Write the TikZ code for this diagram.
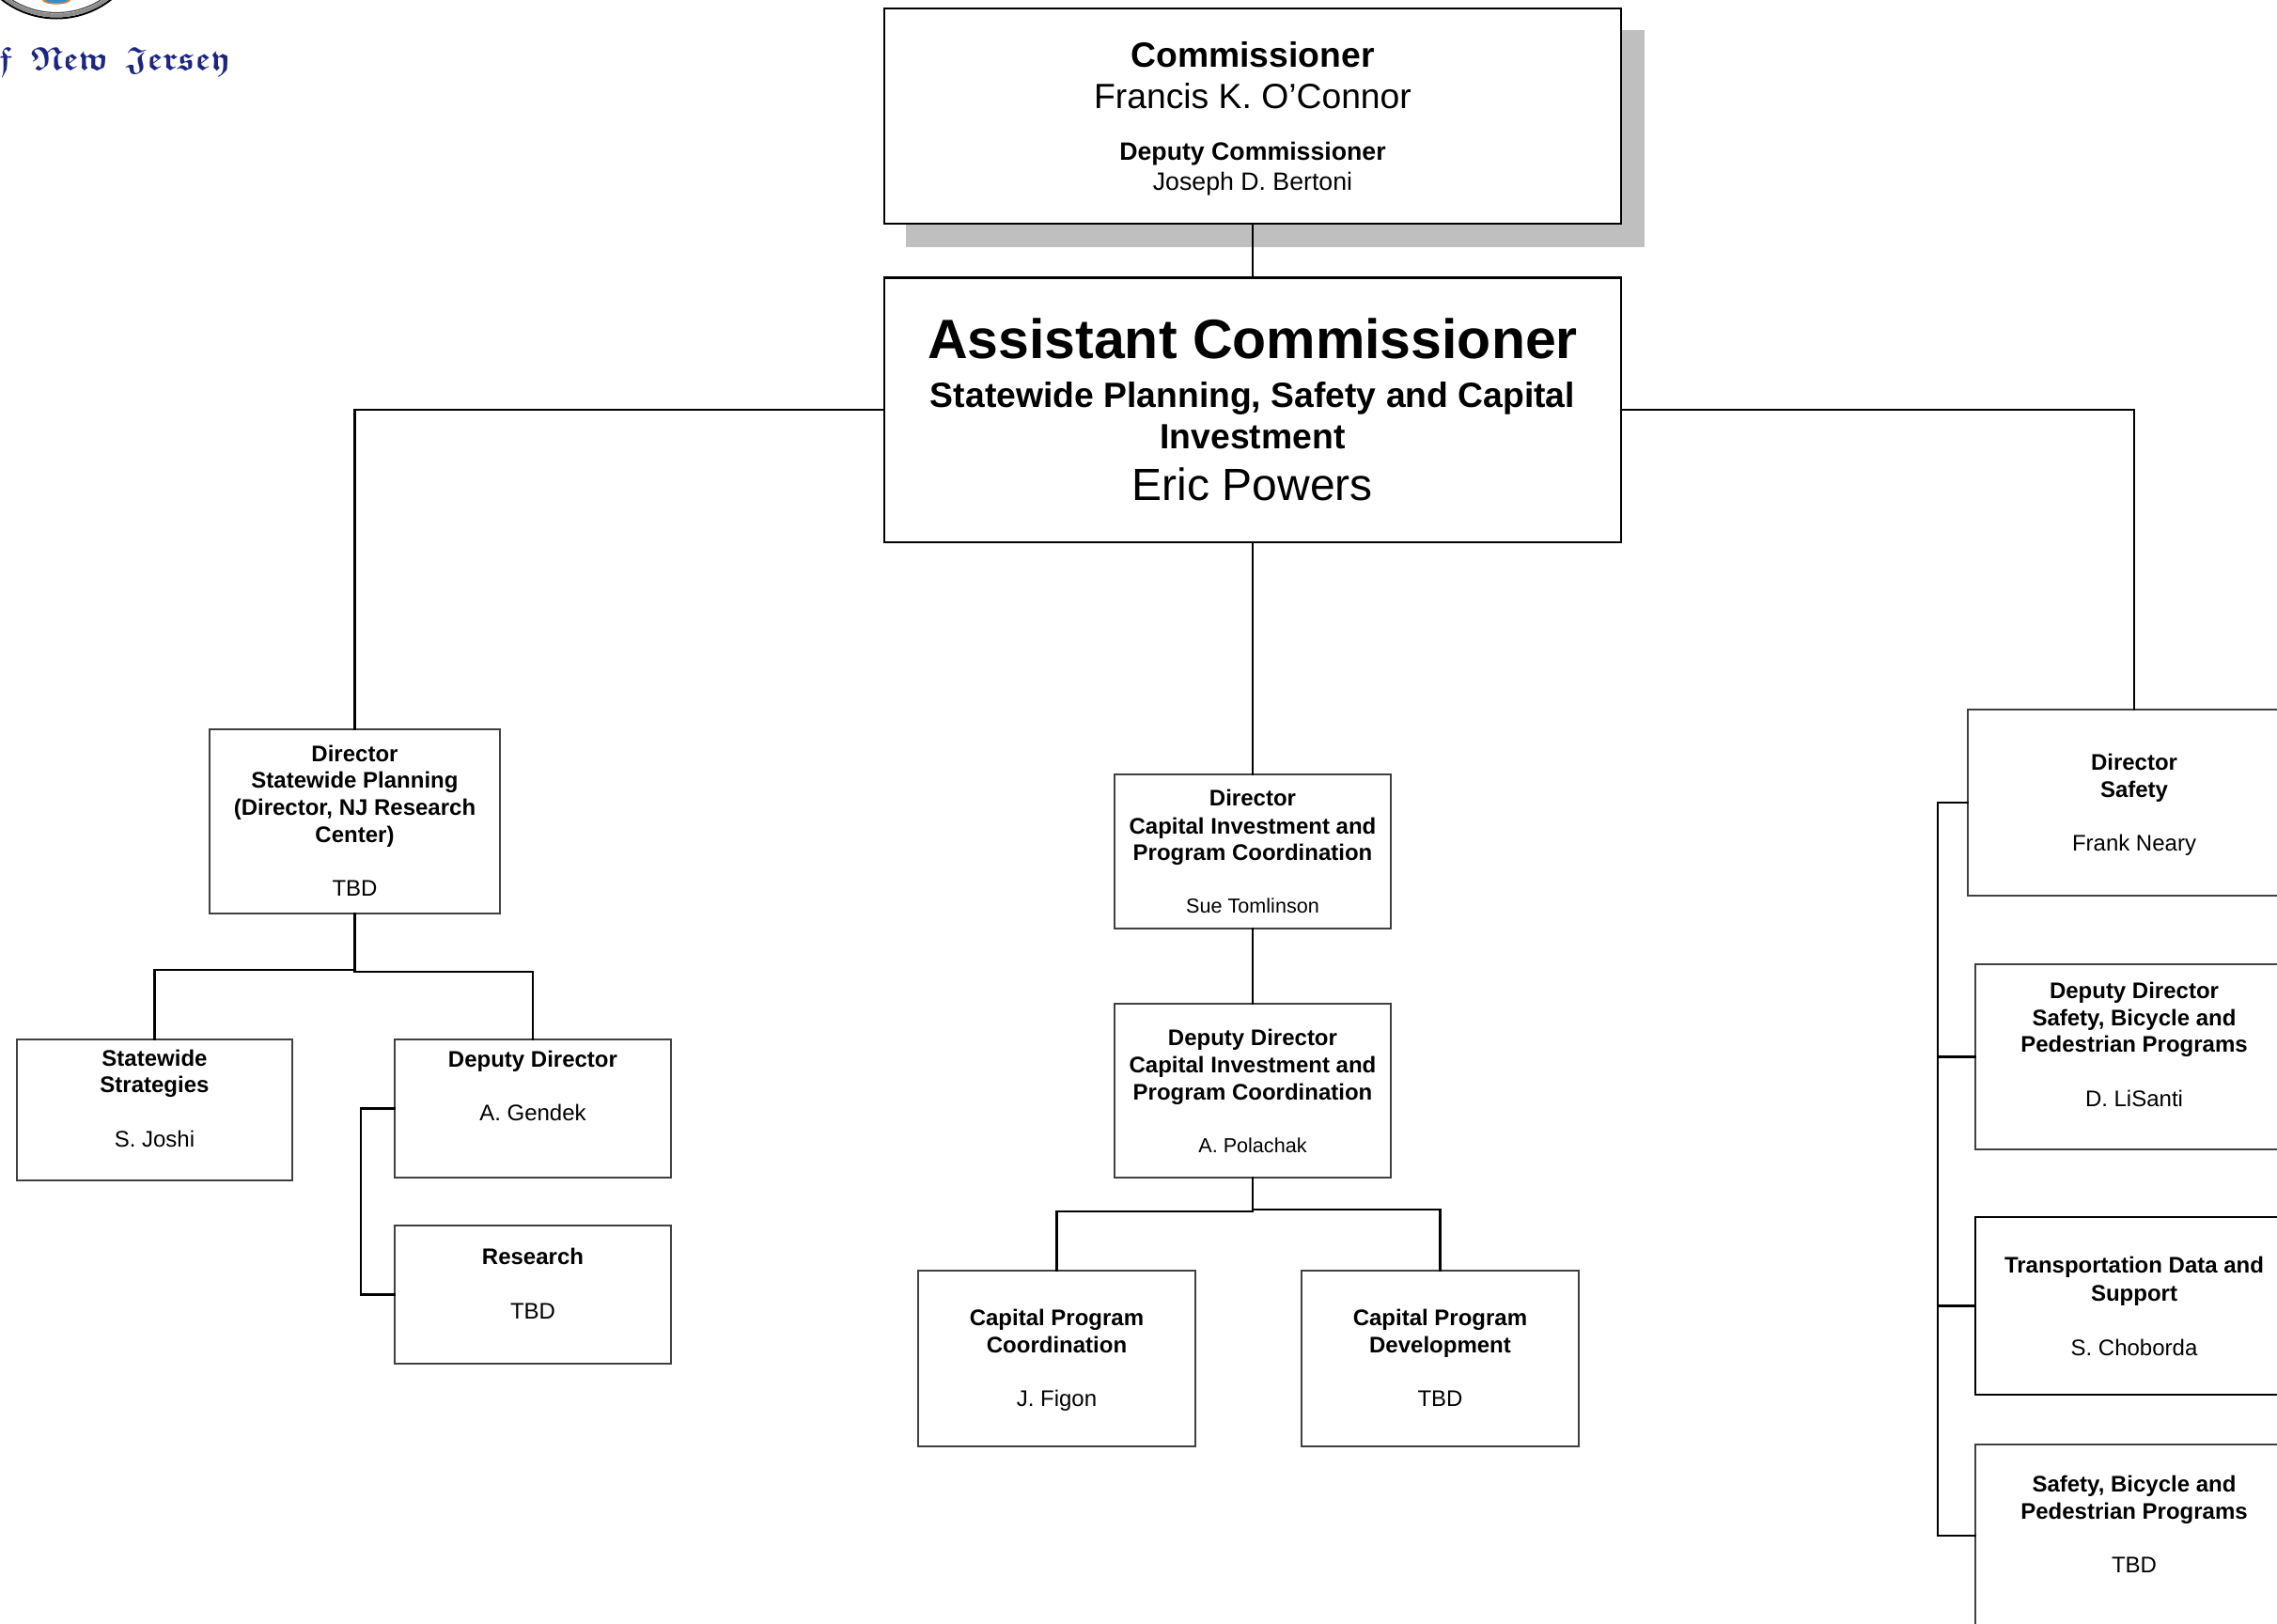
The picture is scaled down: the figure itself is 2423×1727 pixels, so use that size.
\documentclass[tikz,border=0pt]{standalone}
\usepackage{fontspec}
\setmainfont{Liberation Sans}
\usetikzlibrary{calc}
\font\njfrak=eufb10 at 35pt
\definecolor{shadowgray}{HTML}{BFBFBF}
\definecolor{njblue}{HTML}{1C2580}
\definecolor{sealgray}{HTML}{8C8C8C}
\definecolor{sealorange}{HTML}{E0803A}
\definecolor{sealblue}{HTML}{2E8FD0}
\tikzset{
  orgbox/.style={draw=black!75,fill=white,line width=1.1pt,inner sep=0pt,outer sep=0pt},
  heavybox/.style={orgbox,draw=black,line width=2.5pt},
  midbox/.style={orgbox,draw=black,line width=2.1pt},
  link/.style={draw=black,line width=2.2pt,line cap=rect},
}
% one line of a box: distance of its baseline from the previous one, then its text
\newcommand{\bl}[2]{\par\rule{0pt}{#1pt}\smash{#2}}
\newcommand{\fs}[1]{\fontsize{#1}{#1}\selectfont}
\newcommand{\bb}{\fontsize{24}{24}\selectfont\bfseries}
\newcommand{\rr}{\fontsize{24}{24}\selectfont}
\newcommand{\sm}{\fontsize{21.6}{21.6}\selectfont}
% style, name, x1, y1, x2, y2, lines
\newcommand{\obox}[7]{%
  \pgfmathsetlengthmacro{\bw}{(#5-#3)*1pt}%
  \pgfmathsetlengthmacro{\bh}{(#6-#4)*1pt}%
  \node[#1,minimum width=\bw,minimum height=\bh] (#2) at ({(#3+#5)/2*1pt},{-(#4+#6)/2*1pt}) {%
    \begin{minipage}[c][\bh][t]{\bw}\centering\offinterlineskip\setlength{\parindent}{0pt}\setlength{\parskip}{0pt}#7\end{minipage}};%
}
\begin{document}
\begin{tikzpicture}[x=1pt,y=1pt]
\clip (0,0) rectangle (2423,-1727);
\fill[white] (0,0) rectangle (2423,-1727);
% seal and state name
\draw[black,line width=2pt] (60,75) circle (94.5);
\draw[sealgray,line width=4pt] (60,75) circle (91.5);
\draw[black!70,line width=1.2pt] (60,75) circle (88.5);
\fill[sealorange] (60,0) ellipse (15 and 4.6);
\fill[sealblue] (60,0) ellipse (12 and 3);
\node[anchor=base west,inner sep=0pt,text=njblue] (njname) at (-1,-74) {\njfrak f\hspace{20pt}New\hspace{18pt}Jersey};
% shadow
\fill[shadowgray] (964,-32) rectangle (1750,-262.5);
% boxes
\obox{heavybox}{comm}{941}{9}{1725}{238}{%
  \bl{62.5}{\fs{37.3}\bfseries Commissioner}%
  \bl{44}{\fs{37.3}Francis K. O’Connor}%
  \bl{54.5}{\fs{26.7}\bfseries Deputy Commissioner}%
  \bl{32}{\fs{26.7}Joseph D. Bertoni}}
\obox{midbox}{ac}{941}{295.5}{1725}{577}{%
  \bl{86}{\fs{59}\bfseries Assistant Commissioner}%
  \bl{52}{\fs{37.3}\bfseries Statewide Planning, Safety and Capital}%
  \bl{44}{\fs{37.3}\bfseries Investment}%
  \bl{54.5}{\fs{48}Eric Powers}}
\obox{orgbox}{dsp}{223}{776}{532}{972}{%
  \bl{34}{\bb Director}\bl{28.9}{\bb Statewide Planning}\bl{28.7}{\bb (Director, NJ Research}\bl{28.7}{\bb Center)}\bl{57.2}{\rr TBD}}
\obox{orgbox}{strat}{18}{1106}{311}{1256}{%
  \bl{28}{\bb Statewide}\bl{28.7}{\bb Strategies}\bl{57.4}{\rr S. Joshi}}
\obox{orgbox}{gdk}{420}{1106}{714}{1253}{%
  \bl{29}{\bb Deputy Director}\bl{57.4}{\rr A. Gendek}}
\obox{orgbox}{res}{420}{1304}{714}{1451}{%
  \bl{41.6}{\bb Research}\bl{57.4}{\rr TBD}}
\obox{orgbox}{dci}{1186}{824}{1480}{988}{%
  \bl{33}{\bb Director}\bl{30}{\bb Capital Investment and}\bl{28.7}{\bb Program Coordination}\bl{56}{\sm Sue Tomlinson}}
\obox{orgbox}{dep}{1186}{1068}{1480}{1253}{%
  \bl{44}{\bb Deputy Director}\bl{29.5}{\bb Capital Investment and}\bl{28.7}{\bb Program Coordination}\bl{56.5}{\sm A. Polachak}}
\obox{orgbox}{cpc}{977}{1352}{1272}{1539}{%
  \bl{58.5}{\bb Capital Program}\bl{28.7}{\bb Coordination}\bl{57.4}{\rr J. Figon}}
\obox{orgbox}{cpd}{1385}{1352}{1680}{1539}{%
  \bl{58.5}{\bb Capital Program}\bl{28.7}{\bb Development}\bl{57.4}{\rr TBD}}
\obox{orgbox}{dsafety}{2094}{755}{2448}{953}{%
  \bl{64.5}{\bb Director}\bl{28.7}{\bb Safety}\bl{57.4}{\rr Frank Neary}}
\obox{orgbox}{dls}{2102}{1026}{2440}{1223}{%
  \bl{36.5}{\bb Deputy Director}\bl{28.7}{\bb Safety, Bicycle and}\bl{28.7}{\bb Pedestrian Programs}\bl{57.4}{\rr D. LiSanti}}
\obox{midbox}{tds}{2102}{1295}{2440}{1484}{%
  \bl{59}{\bb Transportation Data and}\bl{30.5}{\bb Support}\bl{58}{\rr S. Choborda}}
\obox{orgbox}{sbp}{2102}{1537}{2440}{1731}{%
  \bl{50.5}{\bb Safety, Bicycle and}\bl{28.7}{\bb Pedestrian Programs}\bl{57.4}{\rr TBD}}
% helper coordinates
\coordinate (jla) at (300,-1032);
\coordinate (jlb) at (450,-1034);
\coordinate (jca) at (1300,-1289);
\coordinate (jcb) at (1400,-1287);
\coordinate (bk) at (384,-1280);
\coordinate (bus) at (2062,-1000);
% connectors
\draw[link] (comm.south) -- (ac.north);
\draw[link] (ac.west) -| (dsp.north);
\draw[link] (ac.south) -- (dci.north);
\draw[link] (ac.east) -| (dsafety.north);
\draw[link] (dci.south) -- (dep.north);
\draw[link] (dsp.south) |- (jla) -| (strat.north);
\draw[link] (dsp.south) |- (jlb) -| (gdk.north);
\draw[link] (gdk.west) -| (bk) |- (res.west);
\draw[link] (dep.south) |- (jca) -| (cpc.north);
\draw[link] (dep.south) |- (jcb) -| (cpd.north);
\draw[link] (dsafety.west) -| (bus) |- (sbp.west);
\draw[link] (dls.west) -- (dls.west -| bus);
\draw[link] (tds.west) -- (tds.west -| bus);
\end{tikzpicture}
\end{document}
